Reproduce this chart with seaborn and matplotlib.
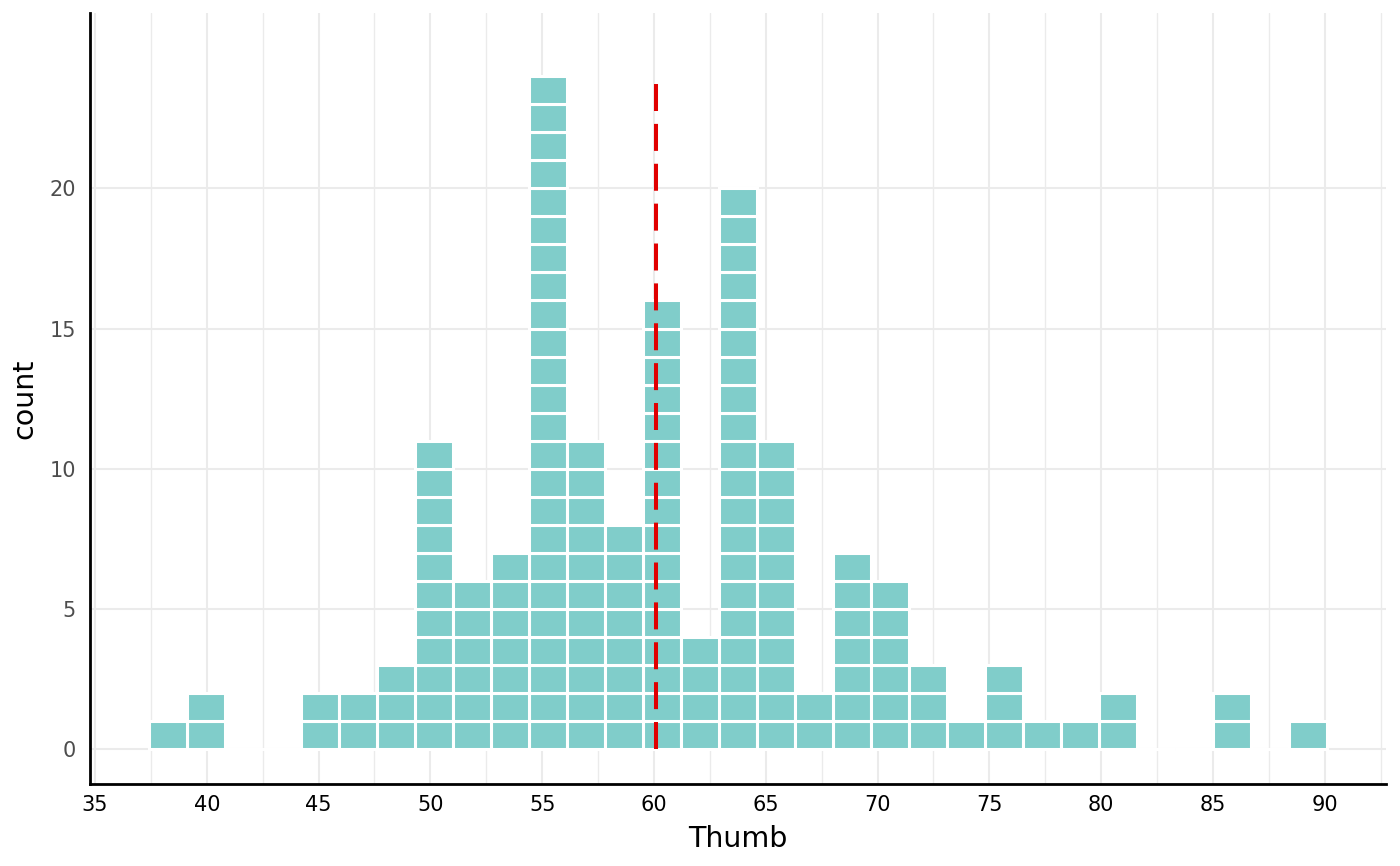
import numpy as np
import pandas as pd
import matplotlib
matplotlib.use("Agg")
import matplotlib.pyplot as plt
import seaborn as sns

# ================= data =================
# counts per histogram bin (31 bins of Thumb)
bin_counts = [1, 2, 0, 0, 2, 2, 3, 11, 6, 7, 24, 11, 8, 16, 4, 20,
              11, 2, 7, 6, 3, 1, 3, 1, 1, 2, 0, 0, 2, 0, 1]
bin_start = 37.41
bin_width = 1.699
thumb_mean = 60.09
mean_line_top = 23.76
x_ticks = [35, 40, 45, 50, 55, 60, 65, 70, 75, 80, 85, 90]
y_ticks = [0, 5, 10, 15, 20]

FILL = "#80CDCA"
MEAN_RED = "#E00000"

edges = bin_start + bin_width * np.arange(len(bin_counts) + 1)
centers = edges[:-1] + bin_width / 2

# one row per observation, with its stacking level inside the bin
rows = []
for c, n in zip(centers, bin_counts):
    for k in range(n):
        rows.append({"Thumb": c, "level": str(k + 1)})
df = pd.DataFrame(rows)
levels = [str(k + 1) for k in range(max(bin_counts))]

sns.set_theme(style="white")
plt.rcParams["font.family"] = ["DejaVu Sans"]

fig = plt.figure(figsize=(14, 8.66), dpi=100)
ax = fig.add_axes([90 / 1400, 1 - 784 / 866, (1386 - 90) / 1400, (784 - 13.3) / 866])

sns.histplot(data=df, x="Thumb", hue="level", hue_order=levels, bins=edges,
             multiple="stack", palette=[FILL] * len(levels), alpha=1,
             edgecolor="white", linewidth=2.2, legend=False, ax=ax, zorder=2)

# mean line
ax.vlines(thumb_mean, 0, mean_line_top, colors=MEAN_RED, linewidth=2.9,
          linestyles=(0, (6.7, 3.2)), zorder=3)

ax.set_xlim(34.776, 92.74)
ax.set_ylim(-1.24, 26.24)
ax.set_xticks(x_ticks)
ax.set_xticks(np.arange(37.5, 93, 5), minor=True)
ax.set_yticks(y_ticks)

ax.grid(which="major", axis="both", color="#EBEBEB", linewidth=1.5, zorder=0)
ax.grid(which="minor", axis="x", color="#EBEBEB", linewidth=1.0, zorder=0)
ax.set_axisbelow(True)

for s in ["top", "right"]:
    ax.spines[s].set_visible(False)
for s in ["left", "bottom"]:
    ax.spines[s].set_color("black")
    ax.spines[s].set_linewidth(2.0)

ax.tick_params(axis="x", which="both", length=0, pad=8, labelsize=15, labelcolor="black")
ax.tick_params(axis="y", which="both", length=0, pad=10, labelsize=15, labelcolor="#4D4D4D")

ax.set_xlabel("Thumb", fontsize=20.5, color="black", labelpad=7)
ax.set_ylabel("count", fontsize=20.5, color="black", labelpad=8)

fig.savefig("out.png", dpi=100)
